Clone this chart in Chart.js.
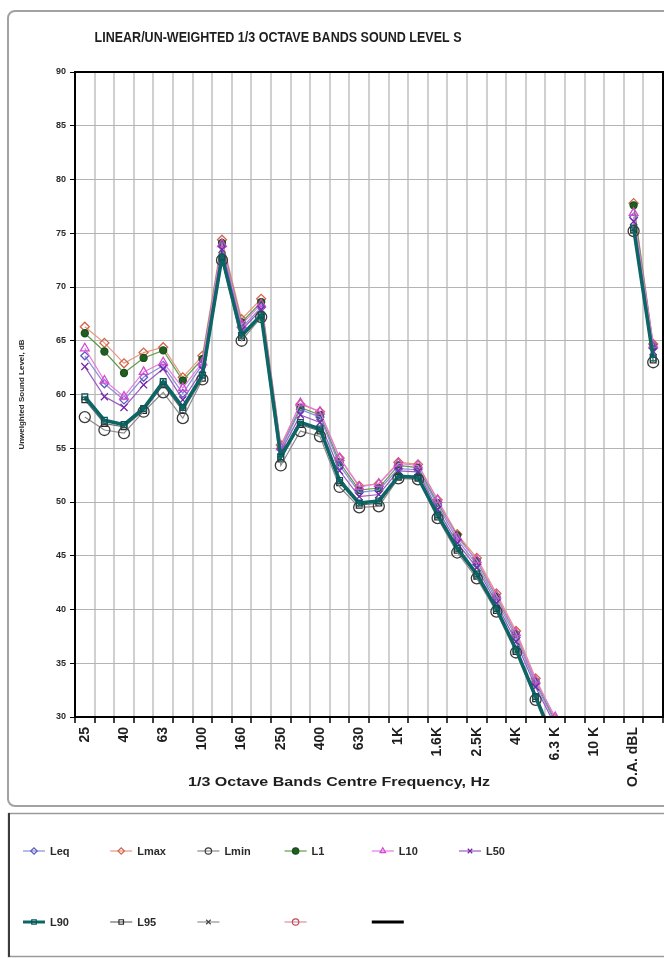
<!DOCTYPE html>
<html>
<head>
<meta charset="utf-8">
<script src="https://cdn.jsdelivr.net/npm/chart.js@4.4.1/dist/chart.umd.min.js"></script>
<style>
    html, body { margin: 0; padding: 0; background: #fff; }
    #wrap { width: 664px; height: 958px; }
</style>
</head>
<body>
<div id="wrap"><canvas id="chart" width="664" height="958"></canvas></div>
<script>
// 1/3 octave bands + overall levels
var bands = ["25", "31.5", "40", "50", "63", "80", "100", "125", "160", "200", "250", "315", "400", "500", "630",
    "800", "1K", "1.25K", "1.6K", "2K", "2.5K", "3.15K", "4K", "5K", "6.3 K", "8K", "10 K", "12.5K", "O.A. dBL", "O.A. dBA"];

var yTicks = [30, 35, 40, 45, 50, 55, 60, 65, 70, 75, 80, 85, 90];

var leq  = [63.6, 61.0, 59.5, 61.6, 62.7, 60.1, 62.8, 73.8, 66.2, 68.1, 54.9, 58.6, 57.9, 53.4, 50.9, 51.1, 53.1, 53.0, 49.7, 46.5, 44.2, 40.9, 37.4, 33.1, 29.5, null, null, null, 76.5, 64.3];
var lmax = [66.3, 64.8, 62.9, 63.9, 64.4, 61.6, 63.6, 74.4, 67.0, 68.9, 55.3, 59.1, 58.4, 54.1, 51.5, 51.7, 53.7, 53.5, 50.2, 47.0, 44.8, 41.5, 38.0, 33.6, 29.8, null, null, null, 77.8, 64.7];
var lmin = [57.9, 56.7, 56.4, 58.4, 60.2, 57.8, 61.4, 72.5, 65.0, 67.2, 53.4, 56.6, 56.1, 51.4, 49.5, 49.6, 52.2, 52.1, 48.5, 45.3, 42.9, 39.8, 36.0, 31.6, 27.0, null, null, null, 75.2, 63.0];
var l1   = [65.7, 64.0, 62.0, 63.4, 64.1, 61.3, 63.3, 74.1, 66.7, 68.6, 55.0, 58.8, 58.1, 53.7, 51.1, 51.3, 53.4, 53.2, 49.9, 46.9, 44.5, 41.2, 37.7, 33.3, 29.6, null, null, null, 77.6, 64.5];
var l10  = [64.3, 61.3, 59.8, 62.1, 63.0, 60.6, 63.0, 74.0, 66.5, 68.4, 55.1, 59.2, 58.4, 54.1, 51.4, 51.7, 53.6, 53.4, 50.2, 46.7, 44.6, 41.3, 37.8, 33.4, 30.0, null, null, null, 76.9, 64.6];
var l50  = [62.6, 59.8, 58.8, 60.9, 62.4, 59.5, 62.3, 73.5, 66.0, 67.9, 54.7, 58.1, 57.4, 52.9, 50.5, 50.7, 52.9, 52.8, 49.3, 46.2, 43.9, 40.6, 37.0, 32.8, 29.2, null, null, null, 76.1, 64.0];
var l90  = [59.8, 57.6, 57.2, 58.7, 61.2, 58.8, 61.8, 72.8, 65.5, 67.4, 54.2, 57.4, 56.8, 52.0, 49.9, 50.1, 52.4, 52.3, 48.8, 45.7, 43.3, 40.1, 36.3, 31.9, 27.5, null, null, null, 75.5, 63.4];
var l95  = [59.5, 57.3, 57.0, 58.5, 60.9, 58.5, 61.5, 72.6, 65.3, 67.2, 54.0, 57.2, 56.6, 51.8, 49.7, 49.9, 52.3, 52.2, 48.6, 45.5, 43.1, 39.9, 36.1, 31.7, 27.3, null, null, null, 75.3, 63.2];
var empty = bands.map(function () { return null; });

var chartTitle = "LINEAR/UN-WEIGHTED 1/3 OCTAVE BANDS SOUND LEVEL S";
var xTitle = "1/3 Octave Bands Centre Frequency, Hz";
var yTitle = "Unweighted Sound Level, dB";

function serie(label, data, line, marker, style, radius, fill, width, order) {
    return {
        label: label,
        data: data,
        borderColor: line,
        borderWidth: width,
        pointStyle: style,
        pointRadius: radius,
        pointBorderColor: marker,
        pointBackgroundColor: fill,
        pointBorderWidth: 1.3,
        tension: 0,
        spanGaps: false,
        clip: 0,
        order: order
    };
}

var datasets = [
    serie("Leq", leq, "#8c8cd8", "#5a5ac0", "rectRot", 4, "rgba(0,0,0,0)", 1.2, 5),
    serie("Lmax", lmax, "#e8957e", "#d0654a", "rectRot", 4.5, "rgba(0,0,0,0)", 1.2, 7),
    serie("Lmin", lmin, "#8a8a8a", "#3a3a3a", "circle", 5.5, "rgba(0,0,0,0)", 1.2, 1),
    serie("L1", l1, "#5f9a4a", "#1c4f1c", "circle", 3.5, "#1f5f1f", 1.2, 6),
    serie("L10", l10, "#e47ae4", "#d24ad2", "triangle", 5, "rgba(0,0,0,0)", 1.2, 4),
    serie("L50", l50, "#9a5ac4", "#7424a8", "crossRot", 5, "rgba(0,0,0,0)", 1.2, 3),
    serie("L90", l90, "#0d6666", "#0b5555", "rect", 4, "rgba(0,0,0,0)", 3.5, 0),
    serie("L95", l95, "#6a6a6a", "#2a2a2a", "rect", 4, "rgba(0,0,0,0)", 1.2, 2),
    serie("", empty, "#909090", "#444444", "crossRot", 4, "rgba(0,0,0,0)", 1.2, 8),
    serie("", empty, "#d8909c", "#c04a5a", "circle", 3.5, "rgba(0,0,0,0)", 1.2, 9),
    serie("", empty, "#000000", "#000000", false, 0, "#000", 3, 10)
];

function boxPath(ctx, x, y, w, h, r) {
    ctx.beginPath();
    ctx.moveTo(x + r, y);
    ctx.lineTo(x + w - r, y);
    ctx.arcTo(x + w, y, x + w, y + r, r);
    ctx.lineTo(x + w, y + h - r);
    ctx.arcTo(x + w, y + h, x + w - r, y + h, r);
    ctx.lineTo(x + r, y + h);
    ctx.arcTo(x, y + h, x, y + h - r, r);
    ctx.lineTo(x, y + r);
    ctx.arcTo(x, y, x + r, y, r);
    ctx.closePath();
}

// squeeze text into a given width (narrow Excel-like lettering)
function fitText(ctx, text, cx, cy, font, width) {
    ctx.save();
    ctx.font = font;
    var w = ctx.measureText(text).width;
    ctx.translate(cx, cy);
    ctx.scale(width / w, 1);
    ctx.textAlign = "center";
    ctx.textBaseline = "middle";
    ctx.fillText(text, 0, 0);
    ctx.restore();
}

function marker(ctx, ds, x, y) {
    if (!ds.pointStyle) return;
    ctx.save();
    ctx.strokeStyle = ds.pointBorderColor;
    ctx.fillStyle = ds.pointBackgroundColor;
    ctx.lineWidth = 1.2;
    Chart.helpers.drawPoint(ctx, {pointStyle: ds.pointStyle, rotation: 0, radius: 3.2, borderWidth: 1.2}, x, y);
    ctx.restore();
}

var framePlugin = {
    id: "frames",
    beforeDraw: function (chart) {
        var ctx = chart.ctx;
        ctx.save();
        ctx.fillStyle = "#fff";
        ctx.fillRect(0, 0, chart.width, chart.height);
        ctx.strokeStyle = "#a2a2a2";
        ctx.lineWidth = 2;
        boxPath(ctx, 8, 11, 690, 795, 7);
        ctx.stroke();
        ctx.strokeStyle = "#9a9a9a";
        ctx.lineWidth = 1.5;
        ctx.strokeRect(8.5, 813.5, 690, 143);
        ctx.strokeStyle = "#3c3c3c";
        ctx.lineWidth = 2;
        ctx.beginPath();
        ctx.moveTo(9, 813);
        ctx.lineTo(9, 957);
        ctx.stroke();
        ctx.restore();
    },
    afterDatasetsDraw: function (chart) {
        var a = chart.chartArea, ctx = chart.ctx;
        ctx.save();
        ctx.strokeStyle = "#000";
        ctx.lineWidth = 2;
        ctx.strokeRect(a.left, a.top, a.right - a.left, a.bottom - a.top);
        ctx.restore();
    },
    afterDraw: function (chart) {
        var ctx = chart.ctx;
        ctx.save();
        ctx.fillStyle = "#1e1e1e";
        fitText(ctx, chartTitle, 278, 38, "bold 14px 'Liberation Sans', Arial, sans-serif", 367);
        fitText(ctx, xTitle, 339, 782, "bold 13px 'Liberation Sans', Arial, sans-serif", 302);

        // legend, two rows of six cells
        chart.data.datasets.forEach(function (ds, i) {
            var col = i % 6, row = Math.floor(i / 6);
            var x = 23 + col * 87.2, y = row ? 922 : 851;
            var len = ds.pointStyle ? 22 : 32;
            ctx.strokeStyle = ds.borderColor;
            ctx.lineWidth = ds.borderWidth > 2 ? 3 : 1.2;
            ctx.beginPath();
            ctx.moveTo(x, y);
            ctx.lineTo(x + len, y);
            ctx.stroke();
            marker(ctx, ds, x + 11, y);
            ctx.fillStyle = "#2a2a2a";
            ctx.font = "bold 11px 'Liberation Sans', Arial, sans-serif";
            ctx.textAlign = "left";
            ctx.textBaseline = "middle";
            ctx.fillText(ds.label, x + 27, y + 1);
        });
        ctx.restore();
    }
};

new Chart(document.getElementById("chart"), {
    type: "line",
    data: { labels: bands, datasets: datasets },
    plugins: [framePlugin],
    options: {
        responsive: false,
        devicePixelRatio: 1,
        animation: false,
        layout: { autoPadding: false, padding: { left: 0, right: 1, top: 72, bottom: 151 } },
        plugins: {
            legend: { display: false },
            title: { display: false },
            tooltip: { enabled: false }
        },
        scales: {
            x: {
                type: "category",
                offset: true,
                afterFit: function (scale) {
                    scale.height = 90;
                    scale.paddingLeft = 0;
                    scale.paddingRight = 0;
                },
                grid: {
                    offset: true,
                    color: "#d0d0d0",
                    lineWidth: 2,
                    tickLength: 6,
                    tickColor: "#000",
                    tickWidth: 1.5
                },
                border: { color: "#000", width: 2 },
                ticks: {
                    autoSkip: false,
                    minRotation: 90,
                    maxRotation: 90,
                    padding: 4,
                    color: "#1e1e1e",
                    font: { family: "'Liberation Sans', Arial, sans-serif", size: 14, weight: "bold" },
                    callback: function (value, index) {
                        return index % 2 === 0 ? bands[index] : "";
                    }
                }
            },
            y: {
                min: 30,
                max: 90,
                afterFit: function (scale) { scale.width = 75; },
                afterBuildTicks: function (scale) {
                    scale.ticks = yTicks.map(function (v) { return { value: v }; });
                },
                grid: {
                    color: "#b4b4b4",
                    lineWidth: 1,
                    tickLength: 5,
                    tickColor: "#000"
                },
                border: { color: "#000", width: 2 },
                ticks: {
                    padding: 4,
                    color: "#2a2a2a",
                    font: { family: "'Liberation Sans', Arial, sans-serif", size: 9, weight: "bold" }
                },
                title: {
                    display: true,
                    text: yTitle,
                    color: "#2a2a2a",
                    font: { family: "'Liberation Sans', Arial, sans-serif", size: 8, weight: "bold" },
                    padding: { top: 17, bottom: 0 }
                }
            }
        }
    }
});
</script>
</body>
</html>
